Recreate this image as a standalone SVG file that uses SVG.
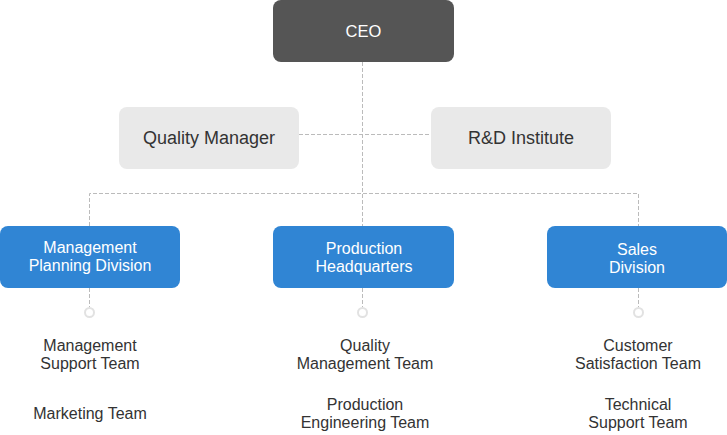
<svg xmlns="http://www.w3.org/2000/svg" width="727" height="435" viewBox="0 0 727 435">
<style>
text{font-family:"Liberation Sans",Arial,sans-serif;text-anchor:middle}
.ceo{fill:#555555}
.staff{fill:#e9e9e9}
.div{fill:#3085d4}
.t-ceo{fill:#ffffff;font-size:16.5px}
.t-staff{fill:#333333;font-size:18px}
.t-div{fill:#ffffff;font-size:16px}
.t-team{fill:#333333;font-size:16px}
.dash{fill:none;stroke:#bbbbbb;stroke-width:1;stroke-dasharray:4 2}
.dot{fill:#ffffff;stroke:#e2e2e2;stroke-width:2}
</style>
<g id="connectors">
<path class="dash" d="M362.5 62V226"/>
<path class="dash" d="M299 134.5H431"/>
<path class="dash" d="M89.5 226V193.5H638.5V226"/>
<path class="dash" d="M89.5 288V307M362.5 288V307M638.5 288V307"/>
<circle class="dot" cx="89.5" cy="312.5" r="4.5"/>
<circle class="dot" cx="362.5" cy="312.5" r="4.5"/>
<circle class="dot" cx="638.5" cy="312.5" r="4.5"/>
</g>
<g id="ceo">
<rect class="ceo" x="273" y="0" width="181" height="62" rx="8"/>
<text class="t-ceo" x="363.5" y="37">CEO</text>
</g>
<g id="quality-manager">
<rect class="staff" x="119" y="107" width="180" height="62" rx="8"/>
<text class="t-staff" x="209" y="144">Quality Manager</text>
</g>
<g id="rd-institute">
<rect class="staff" x="431" y="107" width="180" height="62" rx="8"/>
<text class="t-staff" x="521" y="144">R&amp;D Institute</text>
</g>
<g id="management-planning">
<rect class="div" x="0" y="226" width="180" height="62" rx="8"/>
<text class="t-div" x="90" y="253">Management</text>
<text class="t-div" x="90" y="271">Planning Division</text>
</g>
<g id="production-hq">
<rect class="div" x="273" y="226" width="181" height="62" rx="8"/>
<text class="t-div" x="364" y="254">Production</text>
<text class="t-div" x="364" y="272">Headquarters</text>
</g>
<g id="sales-division">
<rect class="div" x="547" y="226" width="180" height="62" rx="8"/>
<text class="t-div" x="637" y="255">Sales</text>
<text class="t-div" x="637" y="273">Division</text>
</g>
<g id="management-support-team">
<text class="t-team" x="90" y="351">Management</text>
<text class="t-team" x="90" y="369">Support Team</text>
</g>
<g id="marketing-team">
<text class="t-team" x="90" y="419">Marketing Team</text>
</g>
<g id="quality-management-team">
<text class="t-team" x="365" y="351">Quality</text>
<text class="t-team" x="365" y="369">Management Team</text>
</g>
<g id="production-engineering-team">
<text class="t-team" x="365" y="410">Production</text>
<text class="t-team" x="365" y="428">Engineering Team</text>
</g>
<g id="customer-satisfaction-team">
<text class="t-team" x="638" y="351">Customer</text>
<text class="t-team" x="638" y="369">Satisfaction Team</text>
</g>
<g id="technical-support-team">
<text class="t-team" x="638" y="410">Technical</text>
<text class="t-team" x="638" y="428">Support Team</text>
</g>
</svg>
